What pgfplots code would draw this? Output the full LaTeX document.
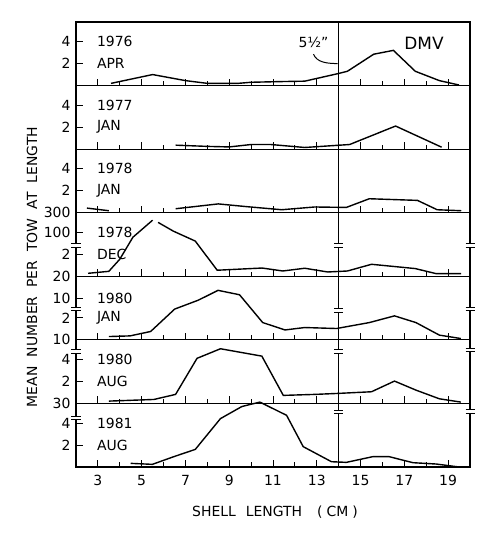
\documentclass[border=0pt]{standalone}
\usepackage{pgfplots}
\pgfplotsset{compat=1.18}
\usepackage{fontspec}
\setmainfont{DejaVu Sans}
\newcommand{\fs}{\fontsize{14}{14}\selectfont}
\newcommand{\wsp}{\hspace{9bp}}
\newcommand{\brk}[2]{%
 \node[inner sep=0pt, outer sep=0pt, minimum width=9bp, minimum height=3.6bp, fill=white] (bk) at (axis cs:#1,#2) {};
 \draw[line width=0.9bp] (bk.north west) -- (bk.north east) (bk.south west) -- (bk.south east);}
\newcommand{\vln}{\draw[line width=1bp] (axis cs:14,0) -- (axis cs:14,5.78);}
\pgfplotsset{
 panel/.style={
  scale only axis, width=394bp, height=63.57bp,
  xmin=2, xmax=20, ymin=0, ymax=5.78,
  clip=false,
  axis line style={line width=1.2bp},
  tick align=inside,
  xtick={3,5,7,9,11,13,15,17,19}, minor xtick={4,6,8,10,12,14,16,18},
  xtick pos=bottom, ytick pos=left,
  major tick length=7bp, minor tick length=4.5bp,
  tick style={line width=0.9bp, black},
  xticklabels={},
  yticklabel style={font=\fs, xshift=-2bp},
  xticklabel style={font=\fs, yshift=-5bp},
  cycle list={black,line width=1.4bp,mark=none\\},
  anchor=south west,
 }
}
\begin{document}
\begin{tikzpicture}
\path[use as bounding box] (0,0) rectangle (500bp,537bp);

% Panel 1: 1976 APR
\begin{axis}[panel, at={(76bp,451.43bp)}, ytick={2,4}, yticklabels={2,4}]
\addplot coordinates {(3.6,0.2) (5.5,1.0) (7,0.45) (8,0.2) (9.4,0.2) (10,0.3) (11.3,0.36) (12.45,0.4) (14,1.1) (14.4,1.3) (15.6,2.85) (16.5,3.2) (17.5,1.3) (18.6,0.45) (19.5,0.05)};
\vln
\node[anchor=west, font=\fs] at (axis cs:2.8,4) {1976};
\node[anchor=west, font=\fs] at (axis cs:2.8,2) {APR};
\node[font=\fontsize{17}{17}\selectfont] at (axis cs:17.9,3.8) {DMV};
\node[font=\fs] at (axis cs:12.85,3.9) {5½”};
\draw[line width=1bp] (axis cs:12.85,2.85) .. controls (axis cs:13.0,2.15) and (axis cs:13.4,2.0) .. (axis cs:13.95,2.0);
\end{axis}

% Panel 2: 1977 JAN
\begin{axis}[panel, at={(76bp,387.86bp)}, ytick={2,4}, yticklabels={2,4}]
\addplot coordinates {(6.55,0.36) (8,0.25) (9,0.2) (10,0.42) (10.9,0.42) (12.45,0.15) (14.5,0.42) (16.6,2.1) (18.7,0.18)};
\vln
\node[anchor=west, font=\fs] at (axis cs:2.8,4) {1977};
\node[anchor=west, font=\fs] at (axis cs:2.8,2) {JAN};
\end{axis}

% Panel 3: 1978 JAN
\begin{axis}[panel, at={(76bp,324.29bp)}, ytick={2,4}, yticklabels={2,4}]
\addplot coordinates {(2.5,0.42) (3.5,0.18)};
\addplot coordinates {(6.55,0.36) (8.5,0.8) (9.8,0.55) (11.4,0.27) (12.9,0.52) (14.35,0.48) (15.4,1.27) (17.6,1.12) (18.5,0.27) (19.6,0.18)};
\vln
\node[anchor=west, font=\fs] at (axis cs:2.8,4) {1978};
\node[anchor=west, font=\fs] at (axis cs:2.8,2) {JAN};
\end{axis}

% Panel 4: 1978 DEC
\begin{axis}[panel, at={(76bp,260.72bp)}, ytick={2,4,5.78}, yticklabels={2,100,300}]
\addplot coordinates {(2.55,0.27) (3.5,0.45) (4,1.55) (4.6,3.55) (5.5,5.1)};
\addplot coordinates {(5.75,4.9) (6.45,4.1) (7.45,3.2) (8.45,0.55) (10.5,0.75) (11.45,0.48) (12.45,0.73) (13.5,0.39) (14.4,0.48) (15.5,1.09) (17.5,0.7) (18.45,0.24) (19.6,0.24)};
\vln
\brk{2}{2.8}\brk{14}{2.8}\brk{20}{2.8}
\node[anchor=west, font=\fs] at (axis cs:2.8,4) {1978};
\node[anchor=west, font=\fs] at (axis cs:2.8,2) {DEC};
\end{axis}

% Panel 5: 1980 JAN
\begin{axis}[panel, at={(76bp,197.15bp)}, ytick={2,3.8,5.78}, yticklabels={2,10,20}]
\addplot coordinates {(3.5,0.3) (4.47,0.36) (5.41,0.76) (6.51,2.8) (7.58,3.6) (8.49,4.5) (9.47,4.1) (10.53,1.57) (11.55,0.9) (12.45,1.12) (13.9,1.03) (15.4,1.57) (16.55,2.18) (17.53,1.57) (18.6,0.43) (19.58,0.12)};
\vln
\brk{2}{2.8}\brk{14}{2.7}\brk{20}{2.8}
\node[anchor=west, font=\fs] at (axis cs:2.8,3.8) {1980};
\node[anchor=west, font=\fs] at (axis cs:2.8,2) {JAN};
\end{axis}

% Panel 6: 1980 AUG
\begin{axis}[panel, at={(76bp,133.58bp)}, ytick={2,4,5.78}, yticklabels={2,4,10}]
\addplot coordinates {(3.5,0.21) (5.56,0.36) (6.55,0.82) (7.53,4.1) (8.6,4.97) (10.49,4.3) (11.47,0.73) (12.9,0.82) (13.97,0.91) (15.5,1.06) (16.55,2.03) (17.53,1.21) (18.6,0.42) (19.58,0.12)};
\vln
\brk{2}{4.75}\brk{14}{4.75}\brk{20}{4.85}
\node[anchor=west, font=\fs] at (axis cs:2.8,4) {1980};
\node[anchor=west, font=\fs] at (axis cs:2.8,2) {AUG};
\end{axis}

% Panel 7: 1981 AUG
\begin{axis}[panel, at={(76bp,70.01bp)}, ytick={2,4,5.78}, yticklabels={2,4,30},
  xticklabels={3,5,7,9,11,13,15,17,19}]
\addplot coordinates {(4.5,0.33) (5.49,0.24) (6.47,0.94) (7.45,1.6) (8.6,4.4) (9.58,5.5) (10.4,5.9) (11.62,4.7) (12.38,1.85) (13.67,0.48) (14.35,0.42) (15.56,0.94) (16.3,0.94) (17.4,0.39) (18.45,0.27) (19.5,0)};
\vln
\brk{2}{4.45}\brk{14}{5.0}\brk{20}{5.05}
\node[anchor=west, font=\fs] at (axis cs:2.8,4) {1981};
\node[anchor=west, font=\fs] at (axis cs:2.8,2) {AUG};
\end{axis}

\node[rotate=90, font=\fs] at (32bp,270bp) {MEAN\wsp NUMBER\wsp PER\wsp TOW\wsp AT\wsp LENGTH};
\node[font=\fs] at (275bp,25bp) {SHELL\hspace{10bp}LENGTH\hspace{15bp}(\hspace{4bp}CM\hspace{4bp})};
\end{tikzpicture}
\end{document}
